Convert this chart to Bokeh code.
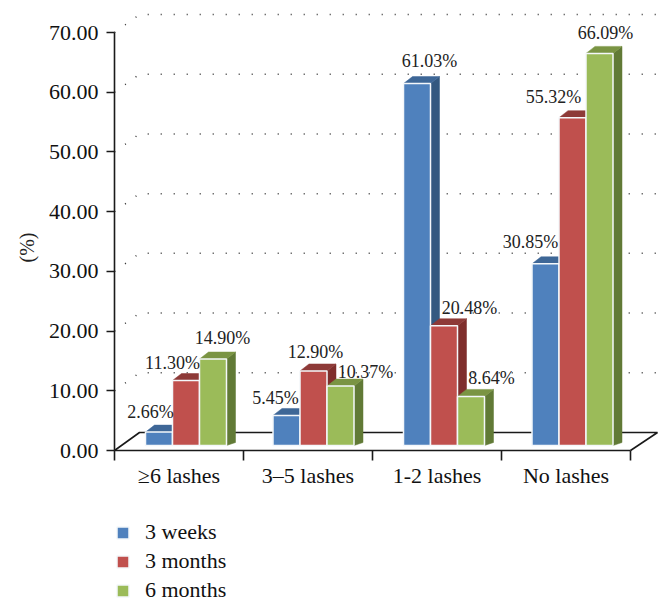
import math
from bokeh.plotting import figure
from bokeh.models import (ColumnDataSource, FixedTicker, Legend, LegendItem, LinearAxis,
                          NumeralTickFormatter, Range1d)
from bokeh.core.properties import value
from bokeh.embed import file_html
from bokeh.resources import INLINE

categories = ["≥6 lashes", "3–5 lashes", "1-2 lashes", "No lashes"]
series_names = ["3 weeks", "3 months", "6 months"]
weeks3 = [2.66, 5.45, 61.03, 30.85]
months3 = [11.30, 12.90, 20.48, 55.32]
months6 = [14.90, 10.37, 8.64, 66.09]
y_ticks = [0, 10, 20, 30, 40, 50, 60, 70]

front_colors = ["#4F81BD", "#C0504D", "#9BBB59"]
top_colors = ["#3E6797", "#8E3A38", "#7A9443"]
side_colors = ["#335880", "#7F2E2C", "#617A36"]

# pixel offsets of each value label from the top centre of its bar
label_dx = [[-8.5, -11, 12.5, -15], [-13.5, 2, 25.5, -19], [9.5, 25, 20.5, 6]]
label_dy = [[-23, -19.5, -24.6, -24], [-20.5, -21, -20.7, -22.7], [-24, -17, -21.4, -22.4]]

FONT = "Liberation Serif"
X_PX = 129.0    # pixels per category
Y_PX = 5.971    # pixels per percent
PAGE_W, PAGE_H = 663, 606
ORIGIN_X, ORIGIN_Y = 114, 450  # axis origin inside the figure

p = figure(width=PAGE_W, height=PAGE_H, output_backend="svg", toolbar_location=None,
           min_border=0, min_border_left=0, min_border_right=0, min_border_top=0, min_border_bottom=0,
           x_axis_type=None, y_axis_type=None,
           x_range=Range1d(-ORIGIN_X / X_PX, (PAGE_W - ORIGIN_X) / X_PX),
           y_range=Range1d(-(PAGE_H - ORIGIN_Y) / Y_PX, ORIGIN_Y / Y_PX))
p.grid.visible = False
p.outline_line_color = None
p.background_fill_color = "white"

# back wall: dotted gridlines, solid floor
WALL_DX = 25 / X_PX
WALL_DY = 18 / Y_PX
WALL_END = 4 + 27 / X_PX
grid_vals = [v for v in y_ticks if v > 0]
p.multi_line(xs=[[0, WALL_DX, WALL_END] for _ in grid_vals],
             ys=[[v, v + WALL_DY, v + WALL_DY] for v in grid_vals],
             line_color="#333333", line_width=1.5, line_dash="1 12")
p.line(x=[0, WALL_DX, WALL_END, 4], y=[0, WALL_DY, WALL_DY, 0], line_color="#1a1a1a", line_width=1.6)

# bars
BAR_W = 27.0 / X_PX
BAR_STARTS = [31 / X_PX, 1 + 29.5 / X_PX, 2 + 31 / X_PX, 3 + 30.5 / X_PX]
DX, DY = 9 / X_PX, 7 / Y_PX
BASE = 5 / Y_PX       # front face base stands above the floor's front edge
TOP_LIFT = 2.5 / Y_PX
BASE_DY = 3 / Y_PX

front_renderers = []
label_x, label_y, label_text, label_xo, label_yo = [], [], [], [], []
for j, vals in enumerate([weeks3, months3, months6]):
    fx, fy, tx, ty, sx, sy = [], [], [], [], [], []
    for i, v in enumerate(vals):
        l = BAR_STARTS[i] + j * BAR_W
        r = l + BAR_W
        t = v + TOP_LIFT
        fx.append([l, r, r, l]); fy.append([BASE, BASE, t, t])
        tx.append([l, r, r + DX, l + DX]); ty.append([t, t, t + DY, t + DY])
        sx.append([r, r + DX, r + DX, r]); sy.append([BASE, BASE + BASE_DY, t + DY, t])
        label_x.append((l + r) / 2); label_y.append(v)
        label_text.append(f"{v:.2f}%")
        label_xo.append(label_dx[j][i]); label_yo.append(label_dy[j][i])
    p.patches(sx, sy, fill_color=side_colors[j], line_color=side_colors[j], line_width=0.5)
    p.patches(tx, ty, fill_color=top_colors[j], line_color=top_colors[j], line_width=0.5)
    fr = p.patches(fx, fy, fill_color=front_colors[j], line_color="#F4F7FA", line_width=1.5)
    front_renderers.append(fr)

p.text(x="x", y="y", text="t", x_offset="xo", y_offset="yo",
       source=ColumnDataSource(dict(x=label_x, y=label_y, t=label_text, xo=label_xo, yo=label_yo)),
       text_font=value(FONT), text_font_size="18px", text_color="#222222",
       text_align="center", text_baseline="middle")

# y-axis title
p.text(x=[-88 / X_PX], y=[203 / Y_PX], text=["(%)"], angle=math.pi / 2,
       text_font=value(FONT), text_font_size="20px", text_color="#222222",
       text_align="center", text_baseline="middle")

# axes sit inside the full-page frame
yax = LinearAxis(fixed_location=0, bounds=(0, 70), ticker=FixedTicker(ticks=y_ticks),
                 formatter=NumeralTickFormatter(format="0.00"),
                 major_label_text_font=FONT, major_label_text_font_size="22px",
                 major_label_text_color="#111111", major_label_standoff=8,
                 major_tick_in=0, major_tick_out=8, minor_tick_in=0, minor_tick_out=0,
                 axis_line_color="#1a1a1a", axis_line_width=1.6,
                 major_tick_line_color="#1a1a1a", major_tick_line_width=1.6)
p.add_layout(yax, "left")

centers = [i + 0.5 for i in range(len(categories))]
xax = LinearAxis(fixed_location=0, bounds=(0, 4),
                 ticker=FixedTicker(ticks=centers, minor_ticks=[0, 1, 2, 3, 4]),
                 major_label_overrides={c: n for c, n in zip(centers, categories)},
                 major_label_text_font=FONT, major_label_text_font_size="22px",
                 major_label_text_color="#111111", major_label_standoff=2,
                 major_tick_in=0, major_tick_out=0, minor_tick_in=0, minor_tick_out=10,
                 axis_line_color="#1a1a1a", axis_line_width=1.6,
                 minor_tick_line_color="#1a1a1a", minor_tick_line_width=1.6)
p.add_layout(xax, "below")

legend = Legend(items=[LegendItem(label=n, renderers=[r]) for n, r in zip(series_names, front_renderers)],
                location=(115, 3), orientation="vertical", margin=0, padding=0,
                border_line_color=None, background_fill_alpha=0,
                glyph_width=15, glyph_height=15, spacing=3, label_standoff=15,
                label_text_font=FONT, label_text_font_size="22px", label_text_color="#111111")
p.add_layout(legend, "center")

open("out.html", "w").write(file_html(p, INLINE))
